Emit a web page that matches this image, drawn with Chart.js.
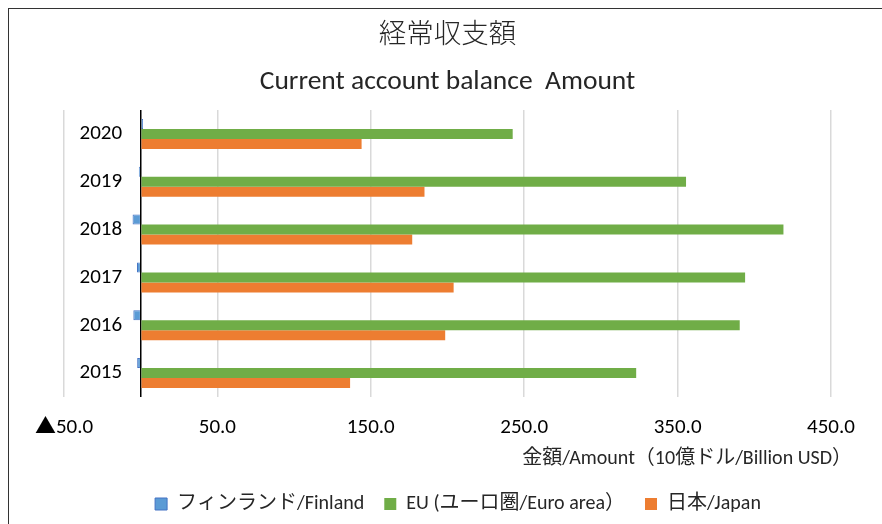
<!DOCTYPE html>
<html><head><meta charset="utf-8">
<script src="https://cdn.jsdelivr.net/npm/chart.js@4"></script>
<style>
html,body{margin:0;padding:0;background:#fff;}
#wrap{position:absolute;left:0;top:0;width:882px;height:524px;overflow:hidden;}
#frame{position:absolute;left:8px;top:8px;width:900px;height:600px;border:1.5px solid #333;box-sizing:border-box;}
canvas{position:absolute;left:0;top:0;}
</style></head><body>
<div id="wrap"><div id="frame"></div><canvas id="c" width="882" height="524"></canvas></div>
<script>
const years = ['2015', '2016', '2017', '2018', '2019', '2020'];
const finland = [-2.3, -4.8, -2.4, -5.3, -1.2, 1.5];
const euroArea = [323, 390.5, 394, 419, 355.5, 242.5];
const japan = [136.5, 198.5, 204, 177, 185, 144];
const seriesNames = ['フィンランド/Finland', 'EU (ユーロ圏/Euro area）', '日本/Japan'];
const xTickValues = [-50, 0, 50, 150, 250, 350, 450];
const titleLines = ['経常収支額', 'Current account balance  Amount'];
const axisTitle = '金額/Amount（10億ドル/Billion USD）';

const LATIN = "Carlito, 'Noto Sans CJK JP', sans-serif";

new Chart(document.getElementById('c'), {
  type: 'bar',
  data: {
    labels: years,
    datasets: [
      { label: seriesNames[0], data: finland, backgroundColor: '#5B9BD5', borderColor: '#4472C4', borderWidth: 1 },
      { label: seriesNames[1], data: euroArea, backgroundColor: '#70AD47', borderWidth: 0 },
      { label: seriesNames[2], data: japan, backgroundColor: '#ED7D31', borderWidth: 0 }
    ]
  },
  options: {
    indexAxis: 'y',
    responsive: false,
    animation: false,
    datasets: { bar: { categoryPercentage: 0.626, barPercentage: 1.0 } },
    layout: { padding: { left: 64, right: 30, top: 5, bottom: 0 } },
    scales: {
      x: {
        type: 'linear', min: -50, max: 450,
        afterBuildTicks: s => { s.ticks = xTickValues.map(v => ({ value: v })); },
        afterFit: s => { s.height = 50; s.paddingRight = 51; },
        grid: {
          color: c => (c.tick && c.tick.value === 0 ? '#000' : '#d9d9d9'),
          lineWidth: 1.5, drawTicks: false, z: 0
        },
        border: { display: false },
        ticks: {
          padding: 18, color: '#000',
          font: { family: LATIN, size: 21 },
          callback: v => (v === 0 ? '' : v < 0 ? '▲' + Math.abs(v).toFixed(1) : v.toFixed(1))
        }
      },
      y: {
        type: 'category', reverse: true, position: 'left',
        afterFit: s => { s.width = 0; },
        grid: { display: false, drawTicks: false },
        border: { display: false },
        ticks: { mirror: true, crossAlign: 'far', padding: 15.5, color: '#000', font: { family: LATIN, size: 21 } }
      }
    },
    plugins: {
      title: {
        display: true, fullSize: false, text: titleLines, color: '#262626',
        font: { family: LATIN, size: 27.5, weight: 300, lineHeight: 46 / 27.5 },
        padding: { top: 8, bottom: 5 }
      },
      subtitle: {
        display: true, position: 'bottom', align: 'end', weight: 500, text: axisTitle, color: '#262626',
        font: { family: LATIN, size: 20, lineHeight: 1.2 },
        padding: { top: 0, bottom: 3 }
      },
      legend: {
        position: 'bottom', weight: 1000,
        labels: { boxWidth: 12, boxHeight: 12, padding: 20, color: '#262626', font: { family: LATIN, size: 20, lineHeight: 1.2 } }
      },
      tooltip: { enabled: false }
    }
  }
});
</script>
</body></html>
